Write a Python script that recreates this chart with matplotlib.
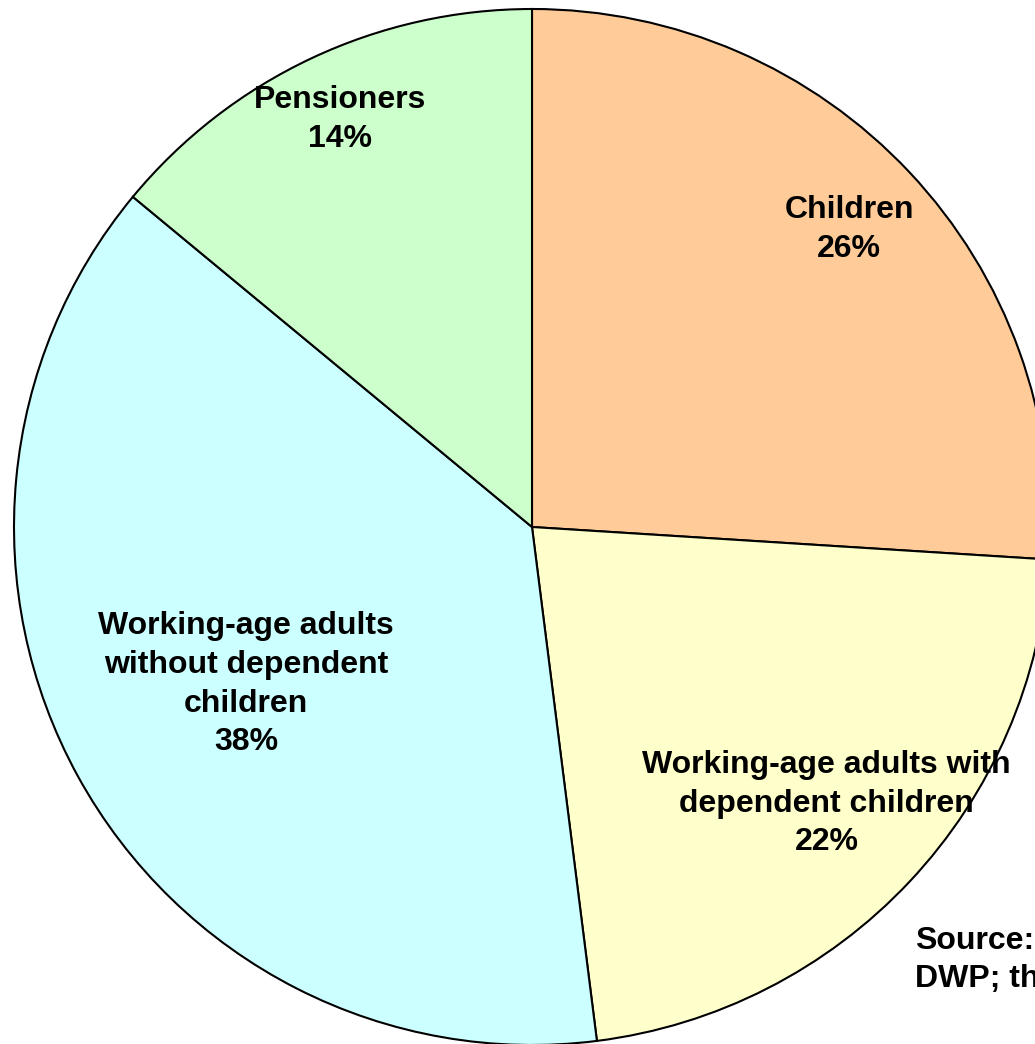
import matplotlib
matplotlib.use('Agg')
import matplotlib.pyplot as plt
import numpy as np

labels = ['Children', 'Working-age adults with\ndependent children',
          'Working-age adults\nwithout dependent\nchildren', 'Pensioners']
shares = [26, 22, 38, 14]
colors = ['#FFCC99', '#FFFFCC', '#CCFFFF', '#CCFFCC']
label_dist = [0.84, 0.78, 0.63, 0.87]

W, H = 1035, 1044
cx, cy, R = 532, 527, 518

plt.rcParams['font.family'] = ['Liberation Sans', 'DejaVu Sans']
fig = plt.figure(figsize=(W / 100, H / 100), dpi=100)
ax = fig.add_axes([0, 0, 1, 1])
wedges, _ = ax.pie(shares, colors=colors, startangle=90, counterclock=False,
                   radius=1, wedgeprops=dict(edgecolor='black', linewidth=1.5))
ax.set_xlim(-cx / R, (W - cx) / R)
ax.set_ylim(-(H - cy) / R, cy / R)
ax.set_aspect('equal')
ax.axis('off')

for w, lab, s, d in zip(wedges, labels, shares, label_dist):
    mid = np.deg2rad((w.theta1 + w.theta2) / 2)
    ax.text(d * np.cos(mid), d * np.sin(mid), '%s\n%d%%' % (lab, s),
            ha='center', va='center', fontsize=23, fontweight='bold',
            linespacing=1.38)

# source note, cut off at the right edge as in the original
fig.text(915 / W, 1 - 960 / H, 'Source:\nDWP; th', ha='left', va='center',
         fontsize=23, fontweight='bold', linespacing=1.38)

fig.savefig('out.png', dpi=100)
